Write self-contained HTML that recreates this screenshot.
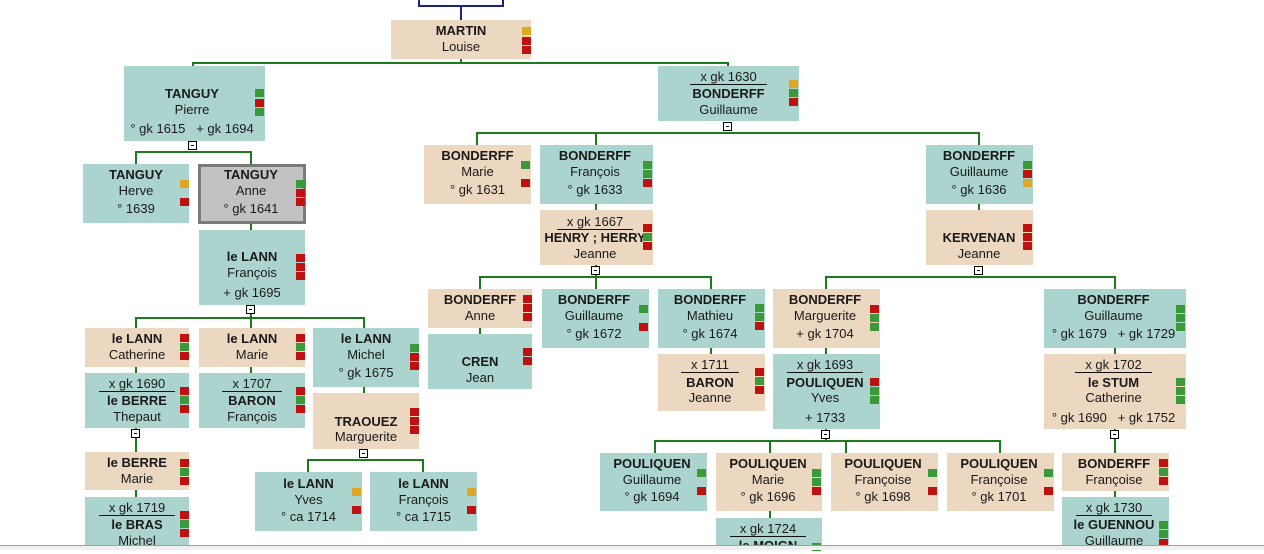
<!DOCTYPE html>
<html><head><meta charset="utf-8"><style>
body{margin:0;width:1264px;height:550px;overflow:hidden;background:#fff;position:relative;font-family:"Liberation Sans",sans-serif}
div{position:absolute;box-sizing:border-box}
.t{background:#acd4ce}.e{background:#ecd7c0}
.l{text-align:center;font-size:13px;line-height:16px;color:#1a1a1a;white-space:nowrap}
.n{font-weight:bold}
.m span{border-bottom:1px solid #111;padding:0 10px;line-height:14px;display:inline-block}
.f{width:9px;height:8px}.g{background:#3a9a3a}.r{background:#c01010}.o{background:#e0a820}
.h{height:2px;background:#1d7a1d}.v{width:2px;background:#1d7a1d}
.x{width:9px;height:9px;border:1px solid #000;background:#fff}
.x:after{content:"";position:absolute;left:2px;top:3px;width:3px;height:1px;background:#000}
</style></head><body>
<div style="left:418px;top:0;width:2px;height:7px;background:#1a237e"></div>
<div style="left:502px;top:0;width:2px;height:7px;background:#1a237e"></div>
<div style="left:418px;top:5px;width:86px;height:2px;background:#1a237e"></div>
<div style="left:460px;top:5px;width:2px;height:15px;background:#1a237e"></div>

<div class="v" style="left:460px;top:59px;height:5px"></div>
<div class="h" style="left:192px;top:62px;width:537px"></div>
<div class="v" style="left:192px;top:62px;height:4px"></div>
<div class="v" style="left:727px;top:62px;height:4px"></div>

<div class="h" style="left:135px;top:151px;width:117px"></div>
<div class="v" style="left:135px;top:151px;height:13px"></div>
<div class="v" style="left:250px;top:151px;height:13px"></div>
<div class="v" style="left:250px;top:223px;height:7px"></div>
<div class="h" style="left:135px;top:317px;width:230px"></div>
<div class="v" style="left:135px;top:317px;height:11px"></div>
<div class="v" style="left:250px;top:305px;height:23px"></div>
<div class="v" style="left:363px;top:317px;height:11px"></div>
<div class="v" style="left:135px;top:367px;height:6px"></div>
<div class="v" style="left:135px;top:428px;height:24px"></div>
<div class="v" style="left:135px;top:490px;height:7px"></div>
<div class="v" style="left:250px;top:367px;height:6px"></div>
<div class="v" style="left:363px;top:387px;height:6px"></div>
<div class="h" style="left:307px;top:459px;width:117px"></div>
<div class="v" style="left:307px;top:459px;height:13px"></div>
<div class="v" style="left:422px;top:459px;height:13px"></div>

<div class="h" style="left:476px;top:132px;width:504px"></div>
<div class="v" style="left:476px;top:132px;height:13px"></div>
<div class="v" style="left:595px;top:132px;height:13px"></div>
<div class="v" style="left:978px;top:132px;height:13px"></div>
<div class="v" style="left:595px;top:204px;height:6px"></div>
<div class="v" style="left:978px;top:204px;height:6px"></div>
<div class="h" style="left:479px;top:276px;width:233px"></div>
<div class="v" style="left:479px;top:276px;height:13px"></div>
<div class="v" style="left:595px;top:265px;height:24px"></div>
<div class="v" style="left:710px;top:276px;height:13px"></div>
<div class="v" style="left:479px;top:328px;height:6px"></div>
<div class="v" style="left:710px;top:348px;height:6px"></div>
<div class="h" style="left:825px;top:276px;width:291px"></div>
<div class="v" style="left:825px;top:276px;height:13px"></div>
<div class="v" style="left:1114px;top:276px;height:13px"></div>
<div class="v" style="left:825px;top:348px;height:6px"></div>
<div class="v" style="left:1114px;top:348px;height:6px"></div>
<div class="h" style="left:654px;top:440px;width:347px"></div>
<div class="v" style="left:654px;top:440px;height:13px"></div>
<div class="v" style="left:769px;top:440px;height:13px"></div>
<div class="v" style="left:845px;top:440px;height:13px"></div>
<div class="v" style="left:999px;top:440px;height:13px"></div>
<div class="v" style="left:825px;top:429px;height:11px"></div>
<div class="v" style="left:1114px;top:429px;height:24px"></div>
<div class="v" style="left:1114px;top:491px;height:6px"></div>
<div class="v" style="left:769px;top:511px;height:7px"></div>

<div class="e" style="left:391px;top:20px;width:140px;height:39px"></div>
<div class="l n" style="left:391px;top:23px;width:140px">MARTIN</div>
<div class="l" style="left:391px;top:39px;width:140px">Louise</div>
<div class="f o" style="left:522px;top:27px"></div><div class="f r" style="left:522px;top:37px"></div><div class="f r" style="left:522px;top:46px"></div>

<div class="t" style="left:124px;top:66px;width:141px;height:75px"></div>
<div class="l n" style="left:124px;top:86px;width:136px">TANGUY</div>
<div class="l" style="left:124px;top:102px;width:136px">Pierre</div>
<div class="l" style="left:124px;top:121px;width:136px">° gk 1615 &nbsp; + gk 1694</div>
<div class="f g" style="left:255px;top:89px"></div><div class="f r" style="left:255px;top:99px"></div><div class="f g" style="left:255px;top:108px"></div>

<div class="t" style="left:83px;top:164px;width:106px;height:59px"></div>
<div class="l n" style="left:83px;top:167px;width:106px">TANGUY</div>
<div class="l" style="left:83px;top:183px;width:106px">Herve</div>
<div class="l" style="left:83px;top:201px;width:106px">° 1639</div>
<div class="f o" style="left:180px;top:180px"></div><div class="f r" style="left:180px;top:198px"></div>

<div style="left:198px;top:164px;width:108px;height:60px;background:#c2c2c4;border:3px solid #7a7a7a"></div>
<div class="l n" style="left:198px;top:167px;width:106px">TANGUY</div>
<div class="l" style="left:198px;top:183px;width:106px">Anne</div>
<div class="l" style="left:198px;top:201px;width:106px">° gk 1641</div>
<div class="f g" style="left:296px;top:180px"></div><div class="f r" style="left:296px;top:189px"></div><div class="f r" style="left:296px;top:198px"></div>

<div class="t" style="left:199px;top:230px;width:106px;height:75px"></div>
<div class="l n" style="left:199px;top:249px;width:106px">le LANN</div>
<div class="l" style="left:199px;top:265px;width:106px">François</div>
<div class="l" style="left:199px;top:285px;width:106px">+ gk 1695</div>
<div class="f r" style="left:296px;top:254px"></div><div class="f r" style="left:296px;top:263px"></div><div class="f r" style="left:296px;top:272px"></div>

<div class="e" style="left:85px;top:328px;width:104px;height:39px"></div>
<div class="l n" style="left:85px;top:331px;width:104px">le LANN</div>
<div class="l" style="left:85px;top:347px;width:104px">Catherine</div>
<div class="f r" style="left:180px;top:334px"></div><div class="f g" style="left:180px;top:343px"></div><div class="f r" style="left:180px;top:352px"></div>

<div class="t" style="left:85px;top:373px;width:104px;height:55px"></div>
<div class="l m" style="left:85px;top:376px;width:104px"><span>x gk 1690</span></div>
<div class="l n" style="left:85px;top:393px;width:104px">le BERRE</div>
<div class="l" style="left:85px;top:409px;width:104px">Thepaut</div>
<div class="f r" style="left:180px;top:387px"></div><div class="f g" style="left:180px;top:396px"></div><div class="f r" style="left:180px;top:405px"></div>

<div class="e" style="left:85px;top:452px;width:104px;height:38px"></div>
<div class="l n" style="left:85px;top:455px;width:104px">le BERRE</div>
<div class="l" style="left:85px;top:471px;width:104px">Marie</div>
<div class="f r" style="left:180px;top:459px"></div><div class="f g" style="left:180px;top:468px"></div><div class="f r" style="left:180px;top:477px"></div>

<div class="t" style="left:85px;top:497px;width:104px;height:53px"></div>
<div class="l m" style="left:85px;top:500px;width:104px"><span>x gk 1719</span></div>
<div class="l n" style="left:85px;top:517px;width:104px">le BRAS</div>
<div class="l" style="left:85px;top:533px;width:104px">Michel</div>
<div class="f r" style="left:180px;top:511px"></div><div class="f g" style="left:180px;top:520px"></div><div class="f r" style="left:180px;top:529px"></div>

<div class="e" style="left:199px;top:328px;width:106px;height:39px"></div>
<div class="l n" style="left:199px;top:331px;width:106px">le LANN</div>
<div class="l" style="left:199px;top:347px;width:106px">Marie</div>
<div class="f r" style="left:296px;top:334px"></div><div class="f g" style="left:296px;top:343px"></div><div class="f r" style="left:296px;top:352px"></div>

<div class="t" style="left:199px;top:373px;width:106px;height:55px"></div>
<div class="l m" style="left:199px;top:376px;width:106px"><span>x 1707</span></div>
<div class="l n" style="left:199px;top:393px;width:106px">BARON</div>
<div class="l" style="left:199px;top:409px;width:106px">François</div>
<div class="f r" style="left:296px;top:387px"></div><div class="f g" style="left:296px;top:396px"></div><div class="f r" style="left:296px;top:405px"></div>

<div class="t" style="left:313px;top:328px;width:106px;height:59px"></div>
<div class="l n" style="left:313px;top:331px;width:106px">le LANN</div>
<div class="l" style="left:313px;top:347px;width:106px">Michel</div>
<div class="l" style="left:313px;top:365px;width:106px">° gk 1675</div>
<div class="f g" style="left:410px;top:344px"></div><div class="f r" style="left:410px;top:353px"></div><div class="f r" style="left:410px;top:362px"></div>

<div class="e" style="left:313px;top:393px;width:106px;height:56px"></div>
<div class="l n" style="left:313px;top:414px;width:106px">TRAOUEZ</div>
<div class="l" style="left:313px;top:429px;width:106px">Marguerite</div>
<div class="f r" style="left:410px;top:408px"></div><div class="f r" style="left:410px;top:417px"></div><div class="f r" style="left:410px;top:426px"></div>

<div class="t" style="left:255px;top:472px;width:107px;height:59px"></div>
<div class="l n" style="left:255px;top:476px;width:107px">le LANN</div>
<div class="l" style="left:255px;top:492px;width:107px">Yves</div>
<div class="l" style="left:255px;top:509px;width:107px">° ca 1714</div>
<div class="f o" style="left:352px;top:488px"></div><div class="f r" style="left:352px;top:506px"></div>

<div class="t" style="left:370px;top:472px;width:107px;height:59px"></div>
<div class="l n" style="left:370px;top:476px;width:107px">le LANN</div>
<div class="l" style="left:370px;top:492px;width:107px">François</div>
<div class="l" style="left:370px;top:509px;width:107px">° ca 1715</div>
<div class="f o" style="left:467px;top:488px"></div><div class="f r" style="left:467px;top:506px"></div>

<div class="t" style="left:658px;top:66px;width:141px;height:55px"></div>
<div class="l m" style="left:658px;top:69px;width:141px"><span>x gk 1630</span></div>
<div class="l n" style="left:658px;top:86px;width:141px">BONDERFF</div>
<div class="l" style="left:658px;top:102px;width:141px">Guillaume</div>
<div class="f o" style="left:789px;top:80px"></div><div class="f g" style="left:789px;top:89px"></div><div class="f r" style="left:789px;top:98px"></div>

<div class="e" style="left:424px;top:145px;width:107px;height:59px"></div>
<div class="l n" style="left:424px;top:148px;width:107px">BONDERFF</div>
<div class="l" style="left:424px;top:164px;width:107px">Marie</div>
<div class="l" style="left:424px;top:182px;width:107px">° gk 1631</div>
<div class="f g" style="left:521px;top:161px"></div><div class="f r" style="left:521px;top:179px"></div>

<div class="t" style="left:540px;top:145px;width:113px;height:59px"></div>
<div class="l n" style="left:540px;top:148px;width:110px">BONDERFF</div>
<div class="l" style="left:540px;top:164px;width:110px">François</div>
<div class="l" style="left:540px;top:182px;width:110px">° gk 1633</div>
<div class="f g" style="left:643px;top:161px"></div><div class="f g" style="left:643px;top:170px"></div><div class="f r" style="left:643px;top:179px"></div>

<div class="e" style="left:540px;top:210px;width:113px;height:55px"></div>
<div class="l m" style="left:540px;top:214px;width:110px"><span>x gk 1667</span></div>
<div class="l n" style="left:540px;top:230px;width:110px">HENRY ; HERRY</div>
<div class="l" style="left:540px;top:246px;width:110px">Jeanne</div>
<div class="f r" style="left:643px;top:224px"></div><div class="f g" style="left:643px;top:233px"></div><div class="f r" style="left:643px;top:242px"></div>

<div class="e" style="left:428px;top:289px;width:104px;height:39px"></div>
<div class="l n" style="left:428px;top:292px;width:104px">BONDERFF</div>
<div class="l" style="left:428px;top:308px;width:104px">Anne</div>
<div class="f r" style="left:523px;top:295px"></div><div class="f r" style="left:523px;top:304px"></div><div class="f r" style="left:523px;top:313px"></div>

<div class="t" style="left:428px;top:334px;width:104px;height:55px"></div>
<div class="l n" style="left:428px;top:354px;width:104px">CREN</div>
<div class="l" style="left:428px;top:370px;width:104px">Jean</div>
<div class="f r" style="left:523px;top:348px"></div><div class="f r" style="left:523px;top:357px"></div>

<div class="t" style="left:542px;top:289px;width:107px;height:59px"></div>
<div class="l n" style="left:542px;top:292px;width:104px">BONDERFF</div>
<div class="l" style="left:542px;top:308px;width:104px">Guillaume</div>
<div class="l" style="left:542px;top:326px;width:104px">° gk 1672</div>
<div class="f g" style="left:639px;top:305px"></div><div class="f r" style="left:639px;top:323px"></div>

<div class="t" style="left:658px;top:289px;width:107px;height:59px"></div>
<div class="l n" style="left:658px;top:292px;width:104px">BONDERFF</div>
<div class="l" style="left:658px;top:308px;width:104px">Mathieu</div>
<div class="l" style="left:658px;top:326px;width:104px">° gk 1674</div>
<div class="f g" style="left:755px;top:304px"></div><div class="f g" style="left:755px;top:313px"></div><div class="f r" style="left:755px;top:322px"></div>

<div class="e" style="left:658px;top:354px;width:107px;height:57px"></div>
<div class="l m" style="left:658px;top:357px;width:104px"><span>x 1711</span></div>
<div class="l n" style="left:658px;top:375px;width:104px">BARON</div>
<div class="l" style="left:658px;top:390px;width:104px">Jeanne</div>
<div class="f r" style="left:755px;top:368px"></div><div class="f g" style="left:755px;top:377px"></div><div class="f r" style="left:755px;top:386px"></div>

<div class="t" style="left:926px;top:145px;width:107px;height:59px"></div>
<div class="l n" style="left:926px;top:148px;width:106px">BONDERFF</div>
<div class="l" style="left:926px;top:164px;width:106px">Guillaume</div>
<div class="l" style="left:926px;top:182px;width:106px">° gk 1636</div>
<div class="f g" style="left:1023px;top:161px"></div><div class="f r" style="left:1023px;top:170px"></div><div class="f o" style="left:1023px;top:179px"></div>

<div class="e" style="left:926px;top:210px;width:107px;height:55px"></div>
<div class="l n" style="left:926px;top:230px;width:106px">KERVENAN</div>
<div class="l" style="left:926px;top:246px;width:106px">Jeanne</div>
<div class="f r" style="left:1023px;top:224px"></div><div class="f r" style="left:1023px;top:233px"></div><div class="f r" style="left:1023px;top:242px"></div>

<div class="e" style="left:773px;top:289px;width:107px;height:59px"></div>
<div class="l n" style="left:773px;top:292px;width:104px">BONDERFF</div>
<div class="l" style="left:773px;top:308px;width:104px">Marguerite</div>
<div class="l" style="left:773px;top:326px;width:104px">+ gk 1704</div>
<div class="f r" style="left:870px;top:305px"></div><div class="f g" style="left:870px;top:314px"></div><div class="f g" style="left:870px;top:323px"></div>

<div class="t" style="left:773px;top:354px;width:107px;height:75px"></div>
<div class="l m" style="left:773px;top:357px;width:104px"><span>x gk 1693</span></div>
<div class="l n" style="left:773px;top:375px;width:104px">POULIQUEN</div>
<div class="l" style="left:773px;top:390px;width:104px">Yves</div>
<div class="l" style="left:773px;top:410px;width:104px">+ 1733</div>
<div class="f r" style="left:870px;top:378px"></div><div class="f g" style="left:870px;top:387px"></div><div class="f g" style="left:870px;top:396px"></div>

<div class="t" style="left:600px;top:453px;width:107px;height:58px"></div>
<div class="l n" style="left:600px;top:456px;width:104px">POULIQUEN</div>
<div class="l" style="left:600px;top:472px;width:104px">Guillaume</div>
<div class="l" style="left:600px;top:489px;width:104px">° gk 1694</div>
<div class="f g" style="left:697px;top:469px"></div><div class="f r" style="left:697px;top:487px"></div>

<div class="e" style="left:716px;top:453px;width:106px;height:58px"></div>
<div class="l n" style="left:716px;top:456px;width:104px">POULIQUEN</div>
<div class="l" style="left:716px;top:472px;width:104px">Marie</div>
<div class="l" style="left:716px;top:489px;width:104px">° gk 1696</div>
<div class="f g" style="left:812px;top:469px"></div><div class="f g" style="left:812px;top:478px"></div><div class="f r" style="left:812px;top:487px"></div>

<div class="e" style="left:831px;top:453px;width:107px;height:58px"></div>
<div class="l n" style="left:831px;top:456px;width:104px">POULIQUEN</div>
<div class="l" style="left:831px;top:472px;width:104px">Françoise</div>
<div class="l" style="left:831px;top:489px;width:104px">° gk 1698</div>
<div class="f g" style="left:928px;top:469px"></div><div class="f r" style="left:928px;top:487px"></div>

<div class="e" style="left:947px;top:453px;width:107px;height:58px"></div>
<div class="l n" style="left:947px;top:456px;width:104px">POULIQUEN</div>
<div class="l" style="left:947px;top:472px;width:104px">Françoise</div>
<div class="l" style="left:947px;top:489px;width:104px">° gk 1701</div>
<div class="f g" style="left:1044px;top:469px"></div><div class="f r" style="left:1044px;top:487px"></div>

<div class="t" style="left:716px;top:518px;width:106px;height:32px"></div>
<div class="l m" style="left:716px;top:521px;width:104px"><span>x gk 1724</span></div>
<div class="l n" style="left:716px;top:538px;width:104px">le MOIGN</div>
<div class="f g" style="left:812px;top:543px"></div>

<div class="t" style="left:1044px;top:289px;width:142px;height:59px"></div>
<div class="l n" style="left:1044px;top:292px;width:139px">BONDERFF</div>
<div class="l" style="left:1044px;top:308px;width:139px">Guillaume</div>
<div class="l" style="left:1044px;top:326px;width:139px">° gk 1679 &nbsp; + gk 1729</div>
<div class="f g" style="left:1176px;top:305px"></div><div class="f g" style="left:1176px;top:314px"></div><div class="f g" style="left:1176px;top:323px"></div>

<div class="e" style="left:1044px;top:354px;width:142px;height:75px"></div>
<div class="l m" style="left:1044px;top:357px;width:139px"><span>x gk 1702</span></div>
<div class="l n" style="left:1044px;top:375px;width:139px">le STUM</div>
<div class="l" style="left:1044px;top:390px;width:139px">Catherine</div>
<div class="l" style="left:1044px;top:410px;width:139px">° gk 1690 &nbsp; + gk 1752</div>
<div class="f g" style="left:1176px;top:378px"></div><div class="f g" style="left:1176px;top:387px"></div><div class="f g" style="left:1176px;top:396px"></div>

<div class="e" style="left:1062px;top:453px;width:107px;height:38px"></div>
<div class="l n" style="left:1062px;top:456px;width:104px">BONDERFF</div>
<div class="l" style="left:1062px;top:472px;width:104px">Françoise</div>
<div class="f r" style="left:1159px;top:459px"></div><div class="f g" style="left:1159px;top:468px"></div><div class="f r" style="left:1159px;top:477px"></div>

<div class="t" style="left:1062px;top:497px;width:107px;height:53px"></div>
<div class="l m" style="left:1062px;top:500px;width:104px"><span>x gk 1730</span></div>
<div class="l n" style="left:1062px;top:517px;width:104px">le GUENNOU</div>
<div class="l" style="left:1062px;top:533px;width:104px">Guillaume</div>
<div class="f g" style="left:1159px;top:521px"></div><div class="f g" style="left:1159px;top:530px"></div><div class="f r" style="left:1159px;top:539px"></div>

<div class="x" style="left:188px;top:141px"></div>
<div class="x" style="left:246px;top:305px"></div>
<div class="x" style="left:131px;top:429px"></div>
<div class="x" style="left:359px;top:449px"></div>
<div class="x" style="left:723px;top:122px"></div>
<div class="x" style="left:591px;top:266px"></div>
<div class="x" style="left:974px;top:266px"></div>
<div class="x" style="left:821px;top:430px"></div>
<div class="x" style="left:1110px;top:430px"></div>

<div style="left:0;top:545px;width:1264px;height:1px;background:#a0a0a0"></div>
<div style="left:0;top:546px;width:1264px;height:4px;background:#f0f0f0"></div>
</body></html>
